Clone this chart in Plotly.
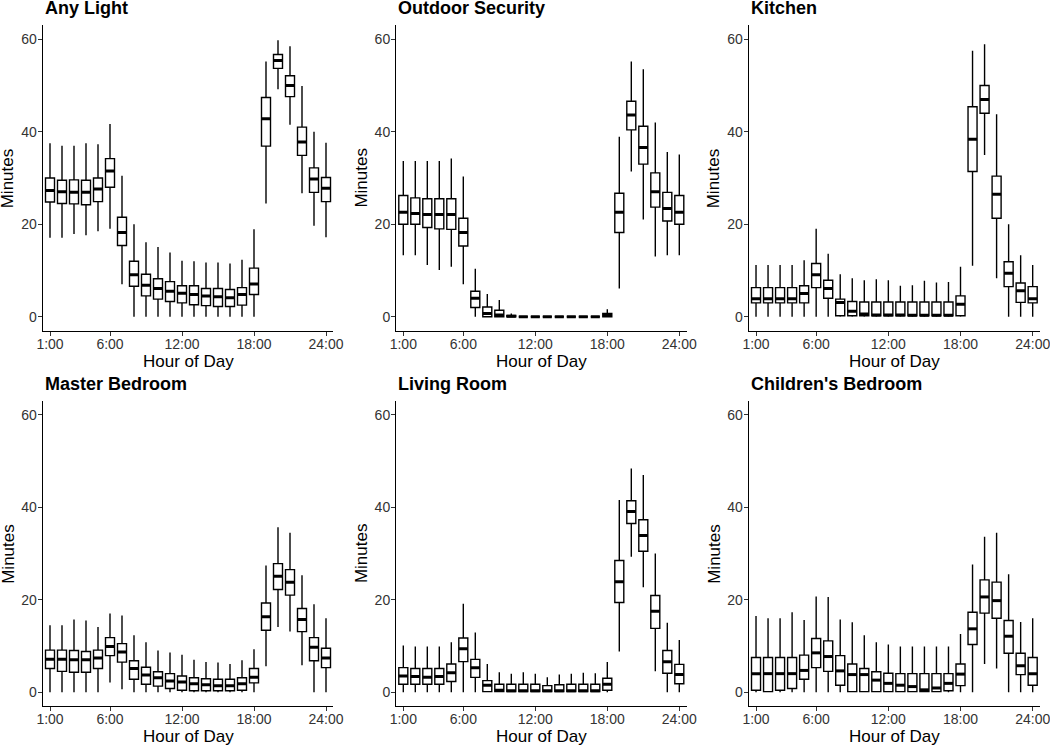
import plotly.graph_objects as go

hours = list(range(1, 25))
tick_vals = [1, 6, 12, 18, 24]
tick_text = ["1:00", "6:00", "12:00", "18:00", "24:00"]
y_ticks = [0, 20, 40, 60]

titles = ["Any Light", "Outdoor Security", "Kitchen",
          "Master Bedroom", "Living Room", "Children's Bedroom"]

# Any Light
any_lo = [17.1,17.1,17.9,17.6,18.5,19.0,7.0,0,0,0,0,0,0,0,0,0,0,0,24.5,49.2,41.5,26.7,19.7,17.2]
any_q1 = [24.8,24.5,24.4,24.2,24.9,28.0,15.4,6.6,4.5,3.8,3.3,3.0,2.6,2.4,2.2,2.2,2.5,4.8,36.9,53.7,47.6,34.9,26.9,24.9]
any_med = [27.3,27.0,26.9,26.9,27.6,31.5,18.2,9.1,6.8,6.1,5.5,5.1,4.8,4.5,4.3,4.1,4.8,7.1,42.8,55.4,50.0,37.8,29.8,27.8]
any_q3 = [30.0,29.5,29.6,29.5,30.0,34.2,21.5,12.0,9.2,8.2,7.6,6.7,6.7,6.1,6.1,5.9,6.3,10.5,47.4,56.7,52.1,41.0,32.2,30.1]
any_hi = [37.5,37.0,37.0,37.5,37.3,41.7,30.5,20.0,16.1,15.1,13.9,12.1,12.0,11.7,11.7,11.5,12.3,18.9,55.2,59.8,58.5,49.9,40.0,37.6]

# Outdoor Security
out_lo = [13.3,13.3,11.2,10.1,10.8,7.0,0,0,0,0,0,0,0,0,0,0,0,0,6.1,31.4,21.0,13.0,13.3,13.3]
out_q1 = [20.0,20.0,19.3,19.0,18.9,15.3,2.0,0,0,0,0,0,0,0,0,0,0,0,18.2,40.4,33.0,23.7,20.7,20.0]
out_med = [22.6,22.3,22.1,22.1,22.1,18.2,4.0,0.7,0.4,0.1,0,0,0,0,0,0,0,0.35,22.6,43.6,36.6,27.0,23.4,22.6]
out_q3 = [26.2,25.7,25.5,25.5,25.5,21.3,5.5,2.1,1.4,0.3,0,0,0,0,0,0,0,0.7,26.7,46.6,41.2,31.1,26.9,26.2]
out_hi = [33.7,33.7,33.7,33.7,34.2,30.3,10.4,4.9,3.6,0.7,0,0,0,0,0,0,0,1.6,38.9,55.2,53.5,42.0,35.6,35.1]

# Kitchen
kit_lo = [0,0,0,0,0,0,0,0,0,0,0,0,0,0,0,0,0,0,11.0,35.0,8.3,0,0,0]
kit_q1 = [3.0,3.0,3.0,3.0,3.0,6.3,4.0,0.2,0.2,0.2,0.2,0.2,0.2,0.2,0.2,0.2,0.2,0.2,31.4,44.0,21.3,6.5,3.1,3.0]
kit_med = [3.9,3.9,3.9,3.9,5.0,9.1,6.1,3.1,1.2,0.6,0.4,0.4,0.4,0.3,0.3,0.3,0.3,2.7,38.4,47.0,26.5,9.4,5.6,3.9]
kit_q3 = [6.3,6.3,6.3,6.3,6.7,11.5,7.9,3.8,3.3,3.2,3.2,3.2,3.2,3.2,3.2,3.2,3.2,4.5,45.4,50.0,30.4,11.9,7.3,6.5]
kit_hi = [11.2,11.2,11.2,11.2,12.2,19.0,13.6,9.2,8.3,7.9,8.1,7.9,6.7,6.8,7.8,7.4,7.5,10.8,57.5,58.9,43.8,20.0,13.3,11.2]

# Master Bedroom
mb_lo = [0,0,0,0,0,2.1,0.6,0,0,0,0,0,0,0,0,0,0,0,5.6,14.1,13.1,5.8,0,0]
mb_q1 = [5.1,4.5,4.3,4.3,5.1,7.9,6.5,2.8,1.7,1.3,0.8,0.4,0.3,0.3,0.3,0.3,0.4,2.0,13.4,22.2,21.0,13.1,6.8,5.3]
mb_med = [7.1,7.1,7.0,7.0,7.4,9.9,8.7,5.1,3.7,3.1,2.4,2.2,1.8,1.6,1.4,1.4,1.8,3.2,16.3,25.1,23.8,15.7,9.7,7.4]
mb_q3 = [9.1,9.1,9.0,8.8,9.1,11.8,10.5,6.8,5.4,4.4,4.0,3.5,3.1,2.9,2.8,2.8,3.1,5.1,19.3,27.8,26.5,18.1,11.8,9.5]
mb_hi = [14.5,14.5,15.7,15.5,14.1,17.0,16.6,12.3,10.8,9.0,8.6,8.1,7.0,6.5,6.4,6.1,6.9,9.3,27.4,35.7,34.5,25.3,19.0,16.0]

# Living Room
lr_lo = [0,0,0,0,0,0,0,0,0,0,0,0,0,0,0,0,0,0,8.8,29.3,22.7,4.5,0,0]
lr_q1 = [1.7,1.7,1.7,1.7,2.3,6.6,3.2,0.1,0.1,0.1,0.1,0.1,0.1,0.1,0.1,0.1,0.1,0.4,19.4,36.5,30.5,13.8,4.1,1.8]
lr_med = [3.5,3.4,3.2,3.4,4.2,9.4,5.3,1.5,0.4,0.3,0.3,0.3,0.3,0.3,0.3,0.3,0.3,1.7,23.9,39.1,33.9,17.5,6.6,3.8]
lr_q3 = [5.3,5.1,5.1,5.1,6.1,11.7,7.1,2.5,1.7,1.7,1.7,1.7,1.4,1.6,1.7,1.7,1.7,3.0,28.5,41.4,37.3,20.9,9.0,6.0]
lr_hi = [10.1,9.9,9.9,9.9,10.8,19.1,12.9,6.1,4.3,4.0,4.3,4.0,3.2,3.8,4.0,4.2,4.1,6.5,41.6,48.4,47.0,30.0,15.0,11.3]

# Children's Bedroom
cb_lo = [0,0,0,0,0,0,0,0,0,0,0,0,0,0,0,0,0,0,0,6.1,5.1,0,0,0]
cb_q1 = [0.4,0.1,0.4,0.8,2.8,5.3,4.5,1.5,0.1,0.1,0.1,0.1,0.1,0.1,0.1,0.1,0.3,1.4,10.3,17.1,16.0,8.4,3.8,1.5]
cb_med = [4.0,4.0,4.0,4.0,4.7,8.5,7.7,4.6,3.8,3.8,2.6,1.9,1.5,1.2,0.5,0.9,1.9,3.9,13.7,20.6,19.8,12.1,5.7,4.0]
cb_q3 = [7.5,7.5,7.5,7.5,8.0,11.6,11.1,7.9,6.1,5.1,4.4,4.1,4.0,4.0,4.0,4.0,4.0,6.1,17.3,24.3,23.8,15.5,8.4,7.5]
cb_hi = [16.5,16.0,16.0,17.3,15.6,20.7,20.6,15.7,15.1,12.3,10.8,10.3,9.9,9.9,9.9,9.9,9.9,12.6,27.6,33.6,34.5,25.5,15.2,16.0]

panels = [
    (any_lo, any_q1, any_med, any_q3, any_hi),
    (out_lo, out_q1, out_med, out_q3, out_hi),
    (kit_lo, kit_q1, kit_med, kit_q3, kit_hi),
    (mb_lo, mb_q1, mb_med, mb_q3, mb_hi),
    (lr_lo, lr_q1, lr_med, lr_q3, lr_hi),
    (cb_lo, cb_q1, cb_med, cb_q3, cb_hi),
]

W, H = 1050, 746
BOX_W = 0.75
col_px = [(42.8, 333.2), (396.1, 686.5), (748.8, 1039.9)]
row_px = [(25.4, 330.6), (401.0, 706.0)]

FONT = "Liberation Sans, Arial, sans-serif"

fig = go.Figure()
annotations = []
layout_axes = {}

for i, (lo, q1, med, q3, hi) in enumerate(panels):
    r, c = divmod(i, 3)
    n = i + 1
    xa = "x" if n == 1 else f"x{n}"
    ya = "y" if n == 1 else f"y{n}"
    fig.add_trace(go.Box(
        x=hours, q1=q1, median=med, q3=q3, lowerfence=lo, upperfence=hi,
        width=BOX_W, whiskerwidth=0, boxpoints=False,
        fillcolor="white", line=dict(color="black", width=1.4),
        xaxis=xa, yaxis=ya, showlegend=False, hoverinfo="skip",
    ))
    mx, my = [], []
    for h, m in zip(hours, med):
        mx += [h - BOX_W / 2, h + BOX_W / 2, None]
        my += [m, m, None]
    fig.add_trace(go.Scatter(
        x=mx, y=my, mode="lines", line=dict(color="black", width=3),
        xaxis=xa, yaxis=ya, showlegend=False, hoverinfo="skip",
    ))
    x0, x1 = col_px[c]
    y0, y1 = row_px[r]
    xd = [x0 / W, x1 / W]
    yd = [1 - y1 / H, 1 - y0 / H]
    kx = "xaxis" if n == 1 else f"xaxis{n}"
    ky = "yaxis" if n == 1 else f"yaxis{n}"
    layout_axes[kx] = dict(
        domain=xd, anchor=ya, range=[0.4, 24.6], tickmode="array",
        tickvals=tick_vals, ticktext=tick_text, showgrid=False, zeroline=False,
        showline=True, linecolor="black", linewidth=1.2, ticks="outside",
        ticklen=4, tickwidth=1, tickcolor="#333333", automargin=False,
        ticklabelstandoff=-4, ticklabeloverflow="allow",
        tickfont=dict(family=FONT, size=14, color="#333333"),
    )
    layout_axes[ky] = dict(
        domain=yd, anchor=xa, range=[-3, 63], tickmode="array",
        tickvals=y_ticks, showgrid=False, zeroline=False,
        showline=True, linecolor="black", linewidth=1.2, ticks="outside",
        ticklen=4, tickwidth=1, tickcolor="#333333", automargin=False,
        ticklabelstandoff=-2, ticklabeloverflow="allow",
        tickfont=dict(family=FONT, size=14, color="#333333"),
    )
    # panel title
    annotations.append(dict(
        text=f"<b>{titles[i]}</b>", xref="paper", yref="paper",
        x=x0 / W, y=1 - (y0 - 17.0) / H, xanchor="left", yanchor="middle",
        showarrow=False, font=dict(family=FONT, size=18, color="black"),
    ))
    # x axis title
    annotations.append(dict(
        text="Hour of Day", xref="paper", yref="paper",
        x=(x0 + x1) / 2 / W, y=1 - (y1 + 30.5) / H, xanchor="center", yanchor="middle",
        showarrow=False, font=dict(family=FONT, size=17, color="black"),
    ))
    # y axis title
    annotations.append(dict(
        text="Minutes", xref="paper", yref="paper", textangle=-90,
        x=(x0 - 34.5) / W, y=1 - (y0 + y1) / 2 / H, xanchor="center", yanchor="middle",
        showarrow=False, font=dict(family=FONT, size=17, color="black"),
    ))

fig.update_layout(
    template="none",
    width=W, height=H, margin=dict(l=0, r=0, t=0, b=0, pad=0), autosize=False,
    paper_bgcolor="white", plot_bgcolor="white",
    annotations=annotations, showlegend=False,
    **layout_axes,
)

fig.write_html(
    "out.html",
    config={"displayModeBar": False},
    post_script="document.body.style.margin='0';document.body.style.overflow='hidden';",
)
